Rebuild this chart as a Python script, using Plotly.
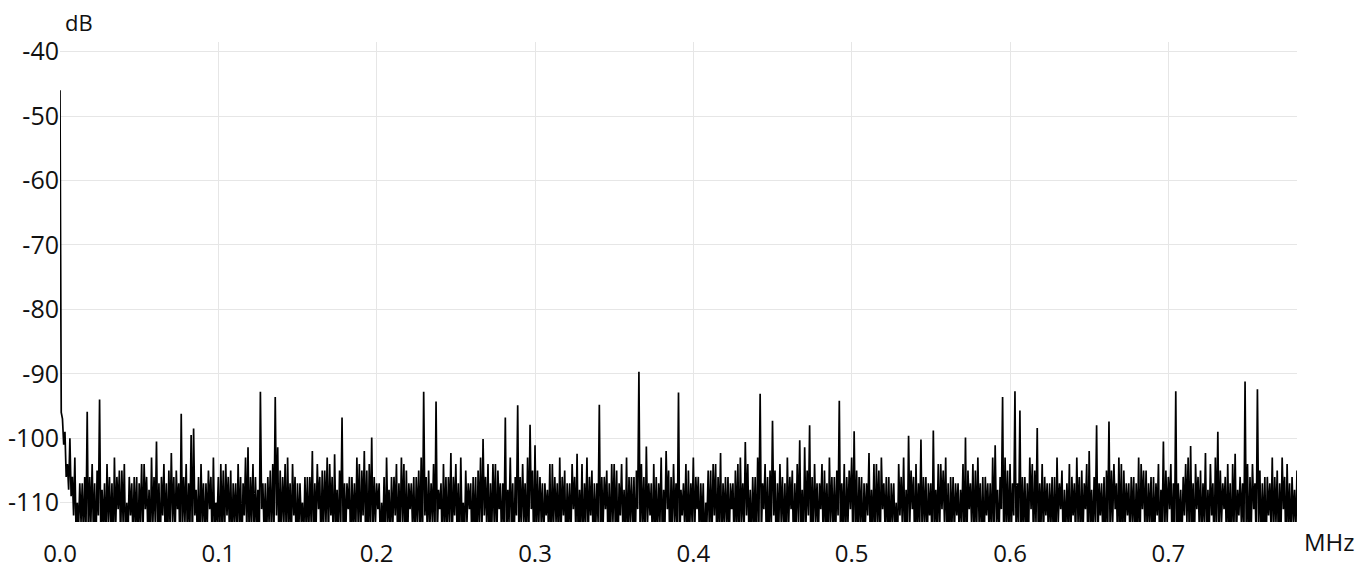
import plotly.graph_objects as go

# Frequency grid (MHz): bins of level_* sit at f_start + k*f_step,
# mid_* values (noise troughs) sit halfway between consecutive bins.
f_start = 0.0
f_step = 0.0015625

# Spectrum level (dB), bins 0-99
level_0 = [-46, -97, -99, -104, -100, -106, -103, -110, -107, -107,
           -106, -95.9, -106, -104, -107, -105, -94.0, -108, -107, -104,
           -106, -107, -103, -106, -105, -105, -104, -110, -106, -107,
           -106, -106, -107, -104, -104, -106, -108, -103, -106, -100.5,
           -107, -106, -104, -107, -105, -102.3, -106, -105, -107, -96.2,
           -106, -104, -107, -99.5, -98.5, -108, -106, -104, -107, -107,
           -105, -106, -103, -110, -106, -104, -105, -104, -106, -105,
           -107, -107, -104, -106, -107, -103, -101.4, -106, -104, -106,
           -108, -92.8, -107, -107, -106, -105, -104, -93.6, -101.4, -105,
           -106, -104, -103, -107, -104, -106, -107, -107, -110, -106]
# bins 100-199
level_1 = [-106, -106, -102, -107, -104, -106, -105, -105, -103, -104,
           -106, -102.5, -108, -105, -96.8, -107, -107, -106, -106, -107,
           -103, -104, -105, -102, -105, -104, -99.9, -106, -107, -107,
           -110, -106, -103, -108, -106, -106, -104, -107, -103, -104,
           -105, -107, -107, -106, -106, -105, -103, -92.8, -106, -105,
           -107, -104, -94.3, -108, -107, -104, -106, -106, -102.3, -106,
           -104, -107, -103, -110, -105, -107, -107, -106, -106, -105,
           -103, -100.1, -106, -104, -107, -104, -104, -105, -107, -107,
           -96.8, -108, -103, -107, -106, -94.9, -106, -104, -107, -103,
           -97.9, -105, -101.1, -105, -106, -107, -107, -108, -104, -104]
# bins 200-299
level_2 = [-106, -107, -103, -106, -105, -107, -107, -104, -106, -102.4,
           -108, -104, -107, -103, -106, -105, -107, -107, -94.8, -106,
           -106, -105, -107, -104, -104, -105, -107, -104, -108, -103,
           -106, -106, -106, -105, -89.7, -104, -106, -101.3, -107, -107,
           -104, -106, -107, -103, -108, -102, -105, -106, -104, -107,
           -92.9, -108, -107, -104, -105, -107, -103, -106, -106, -107,
           -107, -110, -105, -105, -104, -104, -106, -102.3, -107, -106,
           -106, -107, -107, -105, -104, -103, -107, -100.6, -104, -108,
           -106, -106, -103, -93.1, -107, -104, -106, -105, -97.3, -105,
           -107, -104, -106, -107, -103, -106, -105, -107, -104, -100.3]
# bins 300-399
level_3 = [-108, -101.4, -105, -98, -106, -104, -107, -107, -104, -105,
           -107, -103, -106, -106, -105, -94.2, -107, -104, -106, -105,
           -103, -98.9, -105, -106, -106, -107, -107, -102.3, -108, -104,
           -104, -105, -103, -107, -106, -106, -107, -107, -110, -104,
           -106, -103, -108, -99.6, -105, -106, -104, -107, -100.2, -106,
           -106, -107, -107, -98.8, -108, -104, -104, -105, -103, -107,
           -106, -106, -107, -107, -108, -104, -99.9, -105, -107, -104,
           -105, -103, -107, -106, -106, -107, -107, -103, -101.1, -108,
           -106, -93.6, -103, -105, -104, -107, -92.7, -107, -95.7, -106,
           -106, -107, -103, -104, -105, -98.4, -107, -104, -106, -107]
# bins 400-500
level_4 = [-107, -106, -106, -103, -107, -105, -108, -107, -104, -106,
           -107, -103, -106, -105, -107, -104, -102, -108, -106, -98,
           -107, -107, -106, -105, -97.4, -105, -104, -107, -103, -104,
           -105, -107, -107, -106, -106, -107, -103, -104, -105, -105,
           -107, -106, -106, -107, -104, -108, -100.5, -105, -106, -104,
           -107, -92.7, -107, -108, -106, -104, -103, -101.2, -107, -104,
           -106, -105, -107, -102.3, -108, -104, -107, -103, -99, -105,
           -107, -106, -104, -107, -104, -102.4, -108, -106, -107, -91.2,
           -104, -106, -104, -107, -92.4, -105, -107, -106, -106, -107,
           -103, -106, -105, -107, -103, -106, -104, -107, -106, -108,
           -105]

# Half-bin levels (dB): the noise troughs between consecutive bins
mid_0 = [-96, -101, -106, -108, -109, -112, -115, -114, -113, -116,
         -114, -117, -113, -115, -118, -112, -116, -114, -117, -113,
         -115, -118, -114, -111, -116, -113, -117, -115, -112, -116,
         -114, -118, -113, -116, -111, -115, -117, -114, -113, -116,
         -118, -112, -115, -117, -114, -113, -116, -111, -118, -115,
         -113, -116, -114, -117, -112, -115, -118, -113, -116, -114,
         -111, -117, -115, -113, -118, -114, -116, -112, -115, -117,
         -113, -116, -114, -118, -112, -115, -117, -113, -116, -114,
         -118, -111, -115, -117, -113, -116, -114, -112, -118, -115,
         -113, -117, -114, -116, -112, -118, -115, -113, -116, -114]
mid_1 = [-116, -113, -118, -114, -111, -117, -115, -113, -116, -112,
         -118, -114, -116, -113, -117, -115, -111, -118, -114, -116,
         -113, -117, -112, -115, -118, -114, -116, -113, -111, -117,
         -115, -118, -113, -116, -114, -112, -117, -115, -113, -118,
         -116, -111, -114, -117, -113, -115, -118, -112, -116, -114,
         -113, -117, -115, -111, -118, -114, -116, -113, -117, -112,
         -115, -118, -114, -116, -113, -111, -117, -115, -118, -113,
         -116, -112, -114, -117, -115, -113, -118, -111, -116, -114,
         -117, -113, -115, -118, -112, -116, -114, -113, -117, -115,
         -111, -118, -116, -114, -113, -117, -112, -115, -118, -114]
mid_2 = [-113, -117, -115, -112, -118, -114, -116, -111, -115, -117,
         -114, -118, -113, -116, -112, -117, -115, -113, -118, -114,
         -111, -116, -117, -113, -115, -118, -112, -114, -116, -117,
         -113, -115, -118, -111, -116, -114, -117, -113, -112, -118,
         -115, -116, -113, -117, -114, -111, -118, -115, -113, -116,
         -117, -112, -114, -118, -115, -113, -116, -111, -117, -114,
         -118, -113, -115, -116, -112, -117, -114, -118, -113, -115,
         -116, -111, -117, -114, -118, -113, -115, -112, -116, -117,
         -114, -118, -113, -115, -111, -116, -117, -114, -112, -118,
         -115, -113, -116, -117, -114, -111, -118, -115, -113, -116]
mid_3 = [-117, -114, -112, -118, -115, -113, -116, -111, -117, -114,
         -118, -113, -115, -116, -112, -117, -114, -118, -113, -111,
         -116, -115, -117, -113, -118, -114, -112, -116, -115, -117,
         -113, -118, -111, -114, -116, -117, -113, -115, -118, -112,
         -114, -116, -117, -113, -111, -118, -115, -114, -116, -113,
         -117, -112, -118, -115, -114, -116, -111, -113, -117, -118,
         -114, -115, -112, -116, -113, -117, -118, -111, -114, -116,
         -115, -113, -117, -118, -112, -114, -116, -115, -113, -117,
         -111, -118, -114, -116, -115, -112, -117, -113, -118, -114,
         -116, -115, -111, -117, -113, -118, -114, -116, -112, -115]
mid_4 = [-114, -116, -118, -113, -111, -117, -115, -114, -118, -112,
         -116, -113, -117, -115, -111, -118, -114, -116, -113, -117,
         -112, -115, -118, -114, -116, -113, -111, -117, -115, -118,
         -114, -112, -116, -113, -117, -115, -118, -111, -114, -116,
         -113, -117, -115, -112, -118, -114, -116, -113, -111, -117,
         -115, -118, -114, -116, -112, -113, -117, -115, -118, -111,
         -114, -116, -113, -117, -115, -112, -118, -114, -116, -113,
         -111, -117, -115, -118, -114, -116, -112, -113, -117, -115,
         -118, -114, -111, -116, -113, -117, -115, -118, -112, -114,
         -116, -113, -117, -115, -111, -118, -114, -116, -113, -115]

y_ticks = [-40, -50, -60, -70, -80, -90, -100, -110]
y_tick_text = ["-40", "-50", "-60", "-70", "-80", "-90", "-100", "-110"]
x_ticks = [0.0, 0.1, 0.2, 0.3, 0.4, 0.5, 0.6, 0.7]
x_tick_text = ["0.0", "0.1", "0.2", "0.3", "0.4", "0.5", "0.6", "0.7"]

bins = level_0 + level_1 + level_2 + level_3 + level_4
mids = mid_0 + mid_1 + mid_2 + mid_3 + mid_4

freq, level = [], []
for k, v in enumerate(bins):
    freq.append(f_start + k * f_step)
    level.append(v)
    if k < len(mids):
        freq.append(f_start + (k + 0.5) * f_step)
        level.append(mids[k])

fig = go.Figure()
fig.add_trace(go.Scatter(x=freq, y=level, mode="lines",
                         line=dict(color="#000000", width=1.7),
                         hoverinfo="skip", showlegend=False))

font = "Open Sans, Arial, sans-serif"
txt = "#111"
fig.update_layout(
    width=1371, height=568,
    margin=dict(l=60, r=73.5, t=42, b=46),
    paper_bgcolor="white", plot_bgcolor="white",
    font=dict(family=font, size=23, color=txt),
    xaxis=dict(range=[0, 0.78125], tickvals=x_ticks, ticktext=x_tick_text,
               showgrid=True, gridcolor="#e6e6e6", gridwidth=1,
               zeroline=False, showline=False, ticks="", automargin=False,
               ticklabelstandoff=15, tickfont=dict(size=24, color=txt)),
    yaxis=dict(range=[-113, -38.5], tickvals=y_ticks, ticktext=y_tick_text,
               showgrid=True, gridcolor="#e6e6e6", gridwidth=1,
               zeroline=False, showline=False, ticks="", automargin=False,
               ticklabelstandoff=0, tickfont=dict(size=25, color=txt)),
    annotations=[
        dict(text="dB", xref="paper", yref="paper", x=0, y=1,
             xanchor="left", yanchor="middle", xshift=3, yshift=20,
             showarrow=False, font=dict(size=22, color=txt)),
        dict(text="MHz", xref="paper", yref="paper", x=1, y=0,
             xanchor="left", yanchor="middle", xshift=5, yshift=-19,
             showarrow=False, font=dict(size=24, color=txt)),
    ],
)

fig.write_html("out.html",
               config={"displayModeBar": False},
               post_script="document.body.style.margin='0';"
                           "document.body.style.overflow='hidden';")
